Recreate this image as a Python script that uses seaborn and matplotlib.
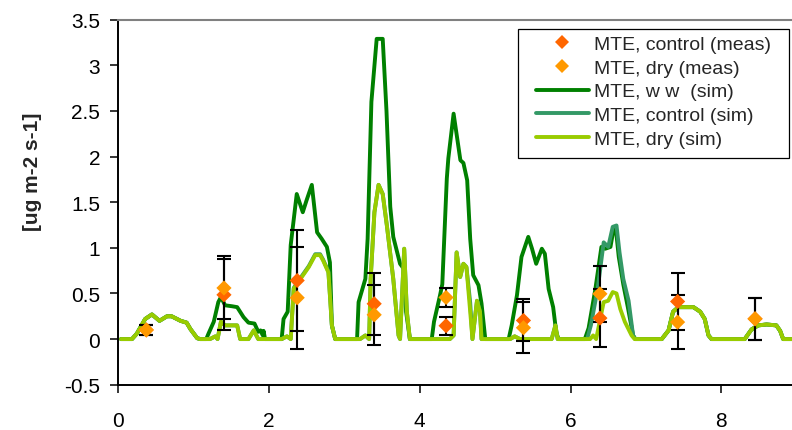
import numpy as np
import pandas as pd
import matplotlib
matplotlib.use("Agg")
import matplotlib.pyplot as plt
import seaborn as sns
from matplotlib.lines import Line2D
from matplotlib.patches import Rectangle

# ---------------- data ----------------
ww_x = [0.04, 0.185, 0.25, 0.36, 0.45, 0.55, 0.65, 0.71, 0.83, 0.91, 0.96, 1.05, 1.09, 1.17, 1.20, 1.27,
        1.33, 1.365, 1.42, 1.51, 1.58, 1.665, 1.73, 1.81, 1.86, 1.89, 1.92, 1.93, 1.95, 2.17, 2.195, 2.25,
        2.29, 2.37, 2.45, 2.50, 2.57, 2.64, 2.70, 2.77, 2.81, 2.836, 2.88, 3.17, 3.19, 3.28, 3.31, 3.36,
        3.43, 3.51, 3.56, 3.61, 3.65, 3.74, 3.79, 3.82, 3.87, 4.16, 4.19, 4.27, 4.30, 4.36, 4.38, 4.45,
        4.54, 4.58, 4.63, 4.67, 4.71, 4.78, 4.82, 4.87, 5.18, 5.22, 5.29, 5.35, 5.44, 5.49, 5.545, 5.62,
        5.66, 5.71, 5.77, 5.81, 5.84, 6.19, 6.24, 6.33, 6.41, 6.46, 6.53, 6.57, 6.60, 6.64, 6.70, 6.76,
        6.83, 6.86, 7.21, 7.30, 7.36, 7.43, 7.52, 7.63, 7.72, 7.78, 7.83, 7.87, 8.31, 8.40, 8.49, 8.60,
        8.73, 8.78, 8.82, 8.94]
ww_y = [0, 0, 0.06, 0.22, 0.27, 0.20, 0.25, 0.25, 0.20, 0.18, 0.11, 0.01, 0, 0, 0.06, 0.19,
        0.405, 0.46, 0.37, 0.36, 0.35, 0.24, 0.18, 0.17, 0.08, 0.095, 0.04, 0.09, 0, 0, 0.22, 0.30,
        1.03, 1.59, 1.39, 1.52, 1.69, 1.17, 1.10, 1.01, 0.84, 0.15, 0, 0, 0.405, 0.66, 1.10, 2.60,
        3.29, 3.29, 2.50, 1.45, 1.12, 0.825, 0.77, 0.30, 0, 0, 0.19, 0.48, 0.60, 1.76, 1.98, 2.47,
        1.96, 1.93, 1.74, 1.10, 0.70, 0.59, 0.39, 0, 0, 0.15, 0.48, 0.90, 1.12, 0.99, 0.825, 0.99,
        0.935, 0.55, 0.35, 0.08, 0, 0, 0.12, 0.55, 1.01, 0.99, 1.01, 1.20, 1.22, 0.90, 0.60, 0.35,
        0.04, 0, 0, 0.095, 0.30, 0.35, 0.35, 0.35, 0.30, 0.22, 0.04, 0, 0, 0.105, 0.15, 0.16,
        0.15, 0.09, 0, 0]

dry_x = [0.04, 0.185, 0.25, 0.36, 0.45, 0.55, 0.65, 0.71, 0.83, 0.91, 0.96, 1.05, 1.09, 1.22, 1.29, 1.32,
         1.365, 1.42, 1.47, 1.58, 1.62, 1.73, 1.80, 1.86, 2.17, 2.24, 2.29, 2.33, 2.42, 2.53, 2.615, 2.68,
         2.72, 2.79, 2.836, 2.88, 3.21, 3.28, 3.33, 3.35, 3.40, 3.455, 3.51, 3.565, 3.65, 3.72, 3.74, 3.795,
         3.83, 3.87, 4.40, 4.45, 4.49, 4.537, 4.58, 4.62, 4.67, 4.70, 4.76, 4.80, 4.82, 5.20, 5.26, 5.33,
         5.75, 5.80, 5.83, 6.26, 6.30, 6.34, 6.44, 6.50, 6.56, 6.61, 6.66, 6.72, 6.81, 6.85, 7.21, 7.30,
         7.36, 7.43, 7.52, 7.63, 7.72, 7.78, 7.83, 7.87, 8.31, 8.40, 8.49, 8.60, 8.73, 8.78, 8.82, 8.94]
dry_y = [0, 0, 0.06, 0.22, 0.27, 0.20, 0.25, 0.25, 0.20, 0.18, 0.11, 0.01, 0, 0, 0.03, 0,
         0.19, 0.15, 0.15, 0.15, 0, 0, 0.095, 0, 0, 0.03, 0, 0.55, 0.66, 0.79, 0.92, 0.92,
         0.86, 0.73, 0.15, 0, 0, 0.04, 0, 0.66, 1.39, 1.69, 1.59, 1.245, 0.66, 0.04, 0, 0.99,
         0.30, 0, 0, 0.04, 0.95, 0.68, 0.825, 0.79, 0.30, 0, 0.42, 0.30, 0, 0, 0.03, 0,
         0, 0.15, 0, 0, 0.04, 0, 0.405, 0.42, 0.515, 0.50, 0.33, 0.19, 0.04, 0, 0, 0.095,
         0.30, 0.35, 0.35, 0.35, 0.30, 0.22, 0.04, 0, 0, 0.105, 0.15, 0.16, 0.15, 0.09, 0, 0]

ctrl_x = [0.04, 0.185, 0.25, 0.36, 0.45, 0.55, 0.65, 0.71, 0.83, 0.91, 0.96, 1.05, 1.09, 1.22, 1.29, 1.32,
          1.365, 1.42, 1.47, 1.58, 1.62, 1.73, 1.80, 1.86, 2.17, 2.24, 2.29, 2.33, 2.42, 2.53, 2.615, 2.68,
          2.72, 2.79, 2.836, 2.88, 3.21, 3.28, 3.33, 3.35, 3.40, 3.455, 3.51, 3.565, 3.65, 3.72, 3.74, 3.795,
          3.83, 3.87, 4.40, 4.45, 4.49, 4.537, 4.58, 4.62, 4.67, 4.70, 4.76, 4.80, 4.82, 5.20, 5.26, 5.33,
          5.75, 5.80, 5.83, 6.22, 6.27, 6.36, 6.44, 6.50, 6.56, 6.61, 6.65, 6.70, 6.77, 6.83, 6.86, 7.21,
          7.30, 7.36, 7.43, 7.52, 7.63, 7.72, 7.78, 7.83, 7.87, 8.31, 8.40, 8.49, 8.60, 8.73, 8.78, 8.82, 8.94]
ctrl_y = [0, 0, 0.06, 0.22, 0.27, 0.20, 0.25, 0.25, 0.20, 0.18, 0.11, 0.01, 0, 0, 0.03, 0,
          0.19, 0.15, 0.15, 0.15, 0, 0, 0.095, 0, 0, 0.03, 0, 0.56, 0.67, 0.80, 0.93, 0.93,
          0.87, 0.74, 0.15, 0, 0, 0.04, 0, 0.66, 1.39, 1.69, 1.59, 1.245, 0.66, 0.04, 0, 0.99,
          0.30, 0, 0, 0.04, 0.95, 0.68, 0.825, 0.79, 0.40, 0, 0.42, 0.30, 0, 0, 0.03, 0,
          0, 0.15, 0, 0, 0.15, 0.55, 1.06, 1.01, 1.23, 1.245, 0.95, 0.66, 0.42, 0.04, 0, 0,
          0.095, 0.30, 0.35, 0.35, 0.35, 0.30, 0.22, 0.04, 0, 0, 0.105, 0.15, 0.16, 0.15, 0.09, 0, 0]

meas_x = [0.375, 1.405, 2.376, 3.397, 4.35, 5.376, 6.39, 7.42, 8.447]
ctrl_meas = [0.10, 0.485, 0.642, 0.387, 0.146, 0.204, 0.23, 0.412, 0.222]
ctrl_err = [0.055, 0.39, 0.55, 0.34, 0.10, 0.23, 0.32, 0.31, 0.23]
dry_meas = [0.10, 0.56, 0.453, 0.266, 0.456, 0.124, 0.496, 0.186, 0.222]
dry_err = [0.055, 0.345, 0.56, 0.33, 0.10, 0.28, 0.31, 0.30, 0.23]

sim_names = ["MTE, w w  (sim)", "MTE, control (sim)", "MTE, dry (sim)"]
meas_names = ["MTE, control (meas)", "MTE, dry (meas)"]
x_ticks = [0, 2, 4, 6, 8]
y_ticks = [-0.5, 0, 0.5, 1, 1.5, 2, 2.5, 3, 3.5]
y_tick_labels = ["-0.5", "0", "0.5", "1", "1.5", "2", "2.5", "3", "3.5"]

sim_colors = {"MTE, w w  (sim)": "#008000", "MTE, control (sim)": "#339966", "MTE, dry (sim)": "#99CC00"}
meas_colors = {"MTE, control (meas)": "#FF6600", "MTE, dry (meas)": "#FF9900"}

# ---------------- frames ----------------
sim = pd.concat([
    pd.DataFrame({"x": ww_x, "y": ww_y, "series": sim_names[0]}),
    pd.DataFrame({"x": ctrl_x, "y": ctrl_y, "series": sim_names[1]}),
    pd.DataFrame({"x": dry_x, "y": dry_y, "series": sim_names[2]}),
], ignore_index=True)
meas = pd.concat([
    pd.DataFrame({"x": meas_x, "y": ctrl_meas, "err": ctrl_err, "series": meas_names[0]}),
    pd.DataFrame({"x": meas_x, "y": dry_meas, "err": dry_err, "series": meas_names[1]}),
], ignore_index=True)

# ---------------- style ----------------
sns.set_theme(style="white")
plt.rcParams["font.family"] = ["Liberation Sans", "DejaVu Sans"]

fig = plt.figure(figsize=(7.92, 4.31), dpi=100)
ax = fig.add_axes([118 / 792, 1 - 385.7 / 431, 674 / 792, 365 / 431])

sns.lineplot(data=sim, x="x", y="y", hue="series", hue_order=sim_names, palette=sim_colors,
             estimator=None, sort=False, linewidth=2.8, legend=False, ax=ax, zorder=2)

for name in meas_names:
    d = meas[meas["series"] == name]
    ax.errorbar(d["x"], d["y"], yerr=d["err"], fmt="none", ecolor="black",
                elinewidth=1.5, capsize=5, capthick=1.5, zorder=3)

sns.scatterplot(data=meas, x="x", y="y", hue="series", hue_order=meas_names, palette=meas_colors,
                marker="D", s=60, linewidth=0, legend=False, ax=ax, zorder=4)

ax.set_xlim(0, 8.937)
ax.set_ylim(-0.5, 3.5)
ax.set_xticks(x_ticks)
ax.set_xticklabels([str(v) for v in x_ticks])
ax.set_yticks(y_ticks)
ax.set_yticklabels(y_tick_labels)
ax.set_xlabel("")
ax.set_ylabel("")

ax.tick_params(axis="both", which="both", direction="out", bottom=True, left=True,
               length=5.8, width=1.1, color="black", labelsize=15, labelcolor="black")
ax.tick_params(axis="y", pad=7)
ax.tick_params(axis="x", pad=13)

for side in ["left", "bottom"]:
    ax.spines[side].set_color("black")
    ax.spines[side].set_linewidth(1.4)
ax.spines["top"].set_color("#808080")
ax.spines["top"].set_linewidth(1.5)
ax.spines["right"].set_visible(False)

fig.text(32 / 792, 1 - 171.5 / 431, "[ug m-2 s-1]", rotation=90, fontsize=15,
         fontweight="bold", ha="center", va="center")

handles = [
    Line2D([], [], ls="none", marker="D", color=meas_colors[meas_names[0]], markersize=7.5, markeredgewidth=0),
    Line2D([], [], ls="none", marker="D", color=meas_colors[meas_names[1]], markersize=7.5, markeredgewidth=0),
    Line2D([], [], color=sim_colors[sim_names[0]], lw=2.8),
    Line2D([], [], color=sim_colors[sim_names[1]], lw=2.8),
    Line2D([], [], color=sim_colors[sim_names[2]], lw=2.8),
]
labels = meas_names + sim_names
ax.legend(handles, labels, frameon=False, loc="upper left",
          bbox_to_anchor=(536 / 792, 1 - 36.5 / 431), bbox_transform=fig.transFigure,
          borderpad=0, borderaxespad=0, handlelength=2.7, handletextpad=0.26,
          labelspacing=0.31, fontsize=14)
fig.add_artist(Rectangle((517.7 / 792, 1 - 159.3 / 431), (789 - 517.7) / 792, (159.3 - 30) / 431,
                         transform=fig.transFigure, fill=False, ec="black", lw=0.9))

fig.savefig("out.png", dpi=100)
